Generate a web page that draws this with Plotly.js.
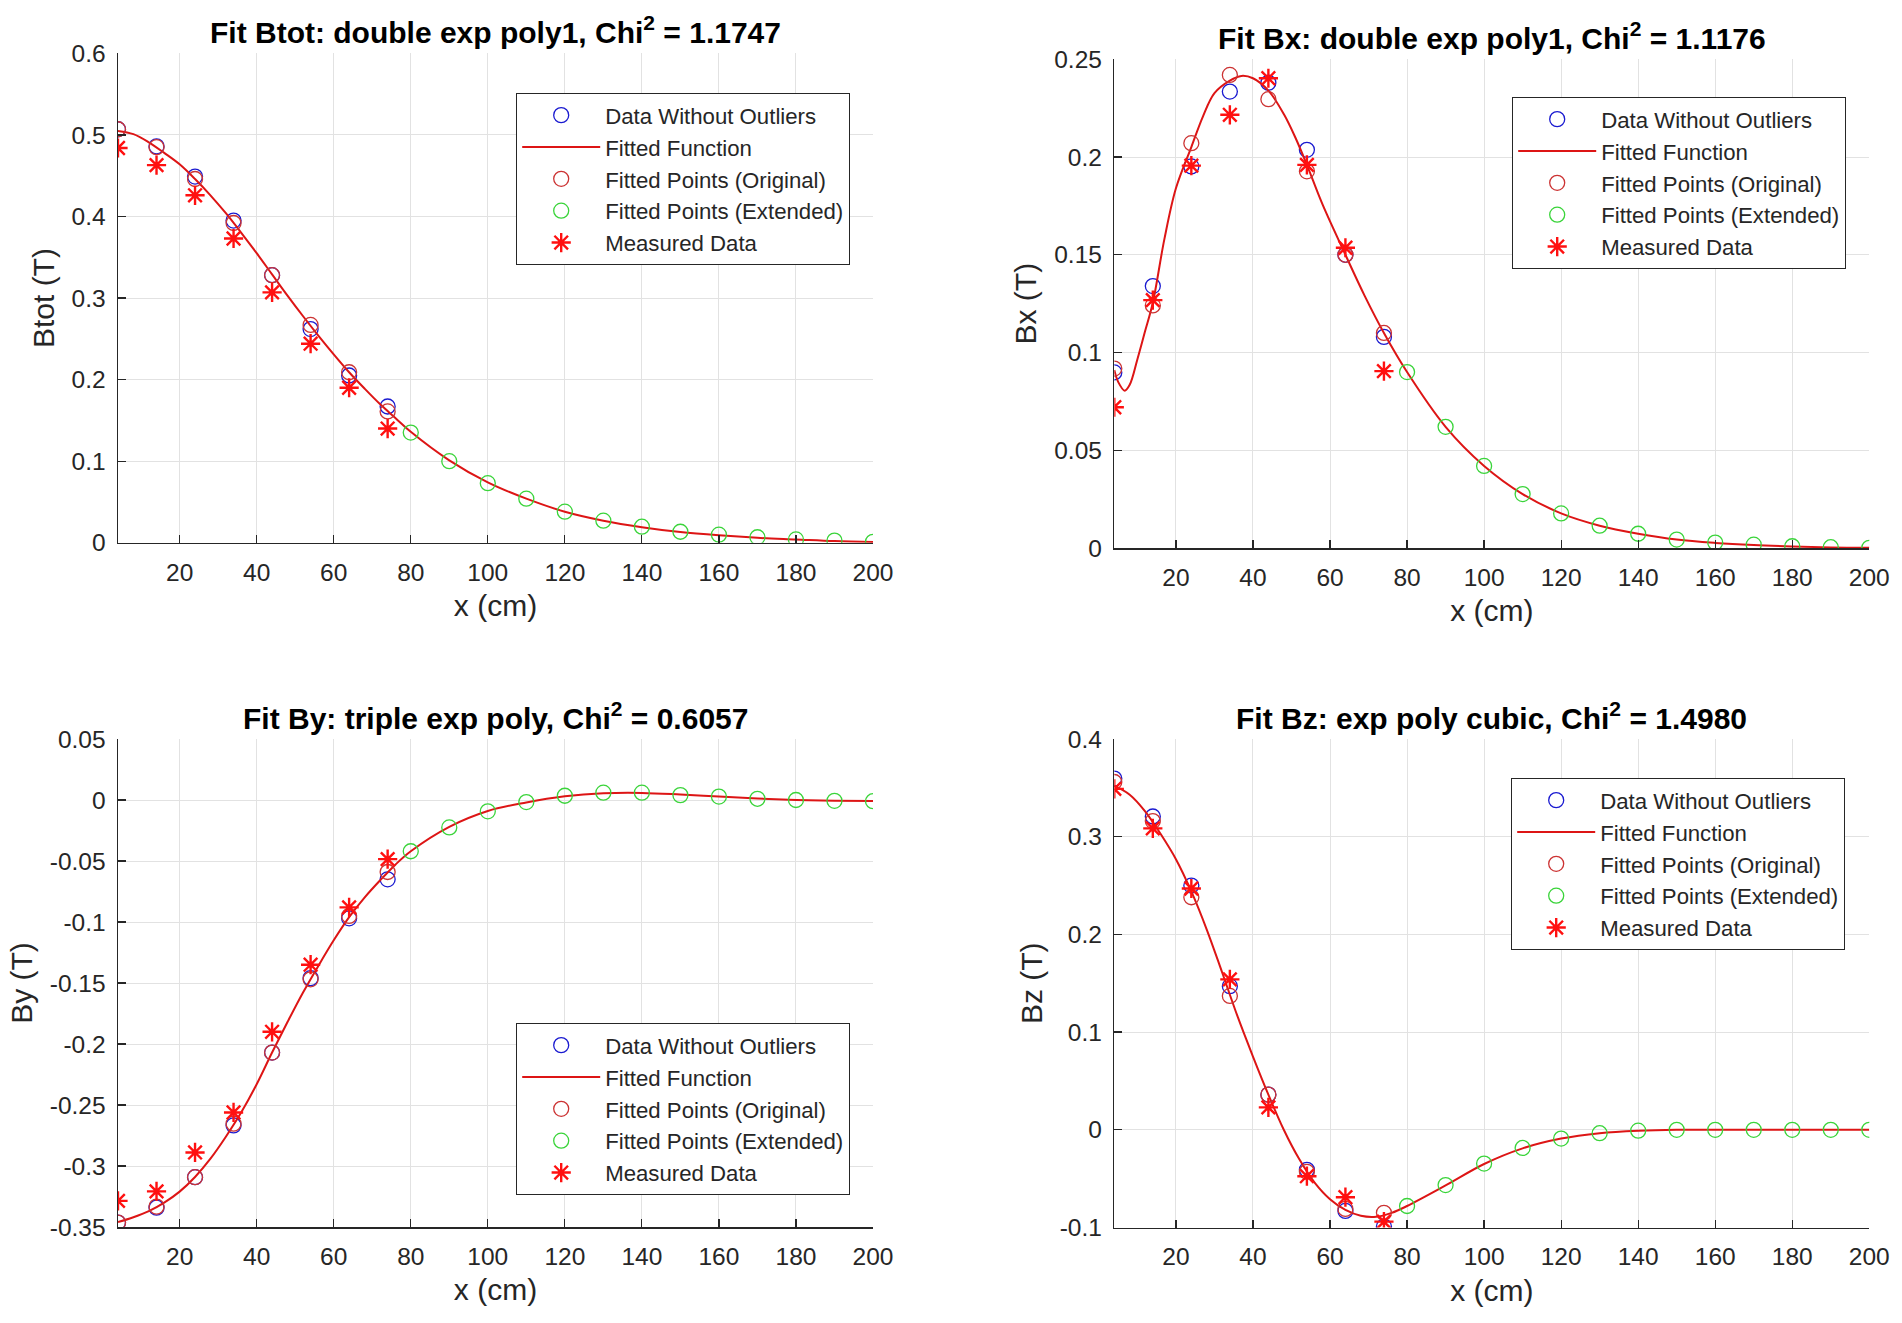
<!DOCTYPE html>
<html>
<head>
<meta charset="utf-8">
<script src="https://cdn.plot.ly/plotly-3.0.1.min.js"></script>
<style>html,body{margin:0;padding:0;background:#fff;}#chart{width:1902px;height:1323px;}</style>
</head>
<body>
<div id="chart"></div>
<script>
// ---------- shared x positions ----------
const xOrig = [4, 14, 24, 34, 44, 54, 64, 74];
const xExt = [80, 90, 100, 110, 120, 130, 140, 150, 160, 170, 180, 190, 200];
const xTickVals = [20, 40, 60, 80, 100, 120, 140, 160, 180, 200];
const xTickText = ['20', '40', '60', '80', '100', '120', '140', '160', '180', '200'];

// ---------- Btot ----------
const btotClean = [0.507, 0.486, 0.449, 0.395, 0.328, 0.262, 0.205, 0.167];
const btotFitOrig = [0.507, 0.485, 0.446, 0.392, 0.328, 0.267, 0.209, 0.161];
const btotMeasured = [0.484, 0.463, 0.426, 0.373, 0.307, 0.244, 0.190, 0.140];
const btotFitExt = [0.135, 0.100, 0.073, 0.054, 0.038, 0.027, 0.0196, 0.0134, 0.0098, 0.0067, 0.004, 0.0026, 0.001];
const btotCurveX = [4, 8, 12, 16, 20, 24, 28, 32, 36, 40, 44, 48, 52, 56, 60, 64, 68, 72, 76, 80, 90, 100, 110, 120, 130, 140, 150, 160, 170, 180, 190, 200];
const btotCurveY = [0.505, 0.501, 0.491, 0.478, 0.464, 0.446, 0.426, 0.404, 0.380, 0.355, 0.329, 0.303, 0.278, 0.254, 0.231, 0.209, 0.189, 0.170, 0.153, 0.136, 0.101, 0.074, 0.054, 0.038, 0.027, 0.019, 0.013, 0.009, 0.006, 0.004, 0.002, 0.001];
const btotTickVals = [0, 0.1, 0.2, 0.3, 0.4, 0.5, 0.6];
const btotTickText = ['0', '0.1', '0.2', '0.3', '0.4', '0.5', '0.6'];

// ---------- Bx ----------
const bxClean = [0.0898, 0.134, 0.1952, 0.2335, 0.238, 0.2037, 0.150, 0.108];
const bxFitOrig = [0.0918, 0.1241, 0.2071, 0.242, 0.2296, 0.1927, 0.150, 0.110];
const bxMeasured = [0.072, 0.1268, 0.1956, 0.2216, 0.2403, 0.196, 0.1536, 0.0905];
const bxFitExt = [0.090, 0.062, 0.042, 0.0276, 0.0177, 0.0114, 0.0073, 0.0043, 0.0028, 0.0017, 0.0009, 0.0004, 0.0001];
const bxCurveX = [4, 5, 6.7, 8, 10, 12, 14, 17, 20, 24, 27, 30, 34, 37, 40, 44, 48, 51, 54, 58, 64, 69, 74, 80, 90, 100, 110, 120, 130, 140, 150, 160, 170, 180, 190, 200];
const bxCurveY = [0.091, 0.085, 0.0805, 0.0835, 0.0966, 0.111, 0.1255, 0.158, 0.184, 0.2051, 0.2207, 0.2327, 0.2391, 0.2415, 0.2403, 0.234, 0.222, 0.210, 0.196, 0.176, 0.150, 0.129, 0.110, 0.090, 0.062, 0.042, 0.0276, 0.0177, 0.0114, 0.0073, 0.0043, 0.0026, 0.0015, 0.0008, 0.0003, 0.0001];
const bxTickVals = [0, 0.05, 0.1, 0.15, 0.2, 0.25];
const bxTickText = ['0', '0.05', '0.1', '0.15', '0.2', '0.25'];

// ---------- By ----------
const byClean = [-0.3464, -0.3342, -0.3092, -0.2667, -0.207, -0.146, -0.097, -0.065];
const byFitOrig = [-0.3464, -0.3333, -0.3092, -0.2653, -0.207, -0.147, -0.095, -0.059];
const byMeasured = [-0.3286, -0.3208, -0.2889, -0.2561, -0.190, -0.135, -0.088, -0.0485];
const byFitExt = [-0.042, -0.0225, -0.0093, -0.0017, 0.0035, 0.006, 0.006, 0.004, 0.0028, 0.001, 0, -0.0007, -0.001];
const byCurveX = [4, 8, 12, 16, 20, 24, 28, 32, 36, 40, 44, 48, 52, 56, 60, 64, 68, 72, 76, 80, 90, 100, 110, 120, 130, 140, 150, 160, 170, 180, 190, 200];
const byCurveY = [-0.346, -0.342, -0.337, -0.330, -0.321, -0.309, -0.294, -0.276, -0.256, -0.233, -0.207, -0.182, -0.158, -0.136, -0.115, -0.096, -0.080, -0.066, -0.053, -0.042, -0.022, -0.009, -0.002, 0.003, 0.0055, 0.0058, 0.0045, 0.0028, 0.0012, 0.0, -0.0006, -0.0008];
const byTickVals = [-0.35, -0.3, -0.25, -0.2, -0.15, -0.1, -0.05, 0, 0.05];
const byTickText = ['-0.35', '-0.3', '-0.25', '-0.2', '-0.15', '-0.1', '-0.05', '0', '0.05'];

// ---------- Bz ----------
const bzClean = [0.3595, 0.3207, 0.250, 0.147, 0.036, -0.041, -0.083, -0.099];
const bzFitOrig = [0.356, 0.316, 0.238, 0.137, 0.036, -0.043, -0.081, -0.085];
const bzMeasured = [0.349, 0.3085, 0.247, 0.154, 0.023, -0.0475, -0.069, -0.094];
const bzFitExt = [-0.078, -0.0566, -0.0346, -0.0186, -0.009, -0.0035, -0.0009, 0, 0, 0, 0, 0, 0];
const bzCurveX = [4, 8, 12, 16, 20, 24, 28, 32, 36, 40, 44, 48, 52, 56, 60, 64, 68, 72, 76, 80, 90, 100, 110, 120, 130, 140, 150, 160, 170, 180, 190, 200];
const bzCurveY = [0.352, 0.343, 0.326, 0.303, 0.277, 0.244, 0.205, 0.161, 0.116, 0.075, 0.036, 0.000, -0.030, -0.054, -0.071, -0.082, -0.088, -0.089, -0.085, -0.078, -0.057, -0.035, -0.019, -0.009, -0.0035, -0.001, 0, 0, 0, 0, 0, 0];
const bzTickVals = [-0.1, 0, 0.1, 0.2, 0.3, 0.4];
const bzTickText = ['-0.1', '0', '0.1', '0.2', '0.3', '0.4'];

// ---------- titles & labels ----------
const panelTitles = [
  '<b>Fit Btot: double exp poly1, Chi<sup>2</sup> = 1.1747</b>',
  '<b>Fit Bx: double exp poly1, Chi<sup>2</sup> = 1.1176</b>',
  '<b>Fit By: triple exp poly, Chi<sup>2</sup> = 0.6057</b>',
  '<b>Fit Bz: exp poly cubic, Chi<sup>2</sup> = 1.4980</b>'
];
const yLabels = ['Btot (T)', 'Bx (T)', 'By (T)', 'Bz (T)'];
const xLabel = 'x (cm)';
const seriesNames = ['Data Without Outliers', 'Fitted Function', 'Fitted Points (Original)', 'Fitted Points (Extended)', 'Measured Data'];

// ---------- figure geometry (pixels) ----------
const W = 1902, H = 1323;
const FONT = 'Liberation Sans, Arial, Helvetica, sans-serif';
const INK = '#262626';
const panels = [
  {box: [118, 873, 53.4, 542.7], legend: [516, 93], titleY: 30, yr: [0, 0.6], tv: btotTickVals, tt: btotTickText,
   clean: btotClean, fitO: btotFitOrig, meas: btotMeasured, ext: btotFitExt, cx: btotCurveX, cy: btotCurveY},
  {box: [1114.3, 1869.3, 59.3, 548], legend: [1512, 97], titleY: 36, yr: [0, 0.25], tv: bxTickVals, tt: bxTickText,
   clean: bxClean, fitO: bxFitOrig, meas: bxMeasured, ext: bxFitExt, cx: bxCurveX, cy: bxCurveY},
  {box: [118, 873, 739, 1227], legend: [516, 1023], titleY: 716, yr: [-0.35, 0.05], tv: byTickVals, tt: byTickText,
   clean: byClean, fitO: byFitOrig, meas: byMeasured, ext: byFitExt, cx: byCurveX, cy: byCurveY},
  {box: [1114.3, 1869.3, 739, 1227.5], legend: [1511, 778], titleY: 716, yr: [-0.1, 0.4], tv: bzTickVals, tt: bzTickText,
   clean: bzClean, fitO: bzFitOrig, meas: bzMeasured, ext: bzFitExt, cx: bzCurveX, cy: bzCurveY}
];

const traces = [];
const layout = {
  width: W, height: H,
  margin: {l: 0, r: 0, t: 0, b: 0},
  paper_bgcolor: '#ffffff', plot_bgcolor: '#ffffff',
  font: {family: FONT, color: INK},
  showlegend: true,
  annotations: []
};

panels.forEach((p, i) => {
  const n = i + 1;
  const xa = 'x' + (n === 1 ? '' : n), ya = 'y' + (n === 1 ? '' : n);
  const lg = 'legend' + (n === 1 ? '' : n);
  const common = {xaxis: xa, yaxis: ya, legend: lg, hoverinfo: 'skip'};
  traces.push(Object.assign({type: 'scatter', mode: 'markers', x: xOrig, y: p.clean, name: seriesNames[0],
    marker: {symbol: 'circle-open', size: 15, color: '#1a1ad0', line: {width: 1.3}}}, common));
  traces.push(Object.assign({type: 'scatter', mode: 'lines', x: p.cx, y: p.cy, name: seriesNames[1],
    line: {color: '#dd1515', width: 2, shape: 'spline', smoothing: 1}}, common));
  traces.push(Object.assign({type: 'scatter', mode: 'markers', x: xOrig, y: p.fitO, name: seriesNames[2],
    marker: {symbol: 'circle-open', size: 15, color: '#cc3333', line: {width: 1.3}}}, common));
  traces.push(Object.assign({type: 'scatter', mode: 'markers', x: xExt, y: p.ext, name: seriesNames[3],
    marker: {symbol: 'circle-open', size: 15, color: '#3ad43a', line: {width: 1.3}}}, common));
  traces.push(Object.assign({type: 'scatter', mode: 'markers', x: xOrig, y: p.meas, name: seriesNames[4],
    marker: {symbol: 'asterisk-open', size: 16, color: '#ff1010', line: {width: 2.4, color: '#ff1010'}}}, common));

  const [l, r, t, b] = p.box;
  const axBase = {
    ticks: 'inside', ticklen: 8, tickwidth: 1.2, tickcolor: INK,
    showline: true, linecolor: INK, linewidth: 1.5, mirror: false,
    showgrid: true, gridcolor: '#e2e2e2', gridwidth: 1, zeroline: false,
    tickfont: {family: FONT, size: 24.5, color: INK},
    fixedrange: true
  };
  layout['xaxis' + (n === 1 ? '' : n)] = Object.assign({}, axBase, {
    domain: [l / W, r / W], anchor: ya, range: [4, 200], ticklabelstandoff: 7,
    tickmode: 'array', tickvals: xTickVals, ticktext: xTickText,
    title: {text: xLabel, font: {family: FONT, size: 30, color: INK}, standoff: 10}
  });
  layout['yaxis' + (n === 1 ? '' : n)] = Object.assign({}, axBase, {
    domain: [1 - b / H, 1 - t / H], anchor: xa, range: p.yr, ticklabelstandoff: 6,
    tickmode: 'array', tickvals: p.tv, ticktext: p.tt,
    title: {text: yLabels[i], font: {family: FONT, size: 30, color: INK}, standoff: 8}
  });
  layout[lg] = {
    x: p.legend[0] / W, y: 1 - p.legend[1] / H, xanchor: 'left', yanchor: 'top',
    xref: 'paper', yref: 'paper',
    bgcolor: '#ffffff', bordercolor: INK, borderwidth: 1.2,
    font: {family: FONT, size: 22.2, color: INK},
    itemwidth: 78, tracegroupgap: 0, traceorder: 'normal', itemsizing: 'trace'
  };
  layout.annotations.push({
    text: panelTitles[i], xref: 'paper', yref: 'paper',
    x: ((l + r) / 2) / W, y: 1 - p.titleY / H, xanchor: 'center', yanchor: 'middle',
    showarrow: false, font: {family: FONT, size: 30, color: '#000000'}
  });
});

Plotly.newPlot('chart', traces, layout, {staticPlot: true, displayModeBar: false});
</script>
</body>
</html>
